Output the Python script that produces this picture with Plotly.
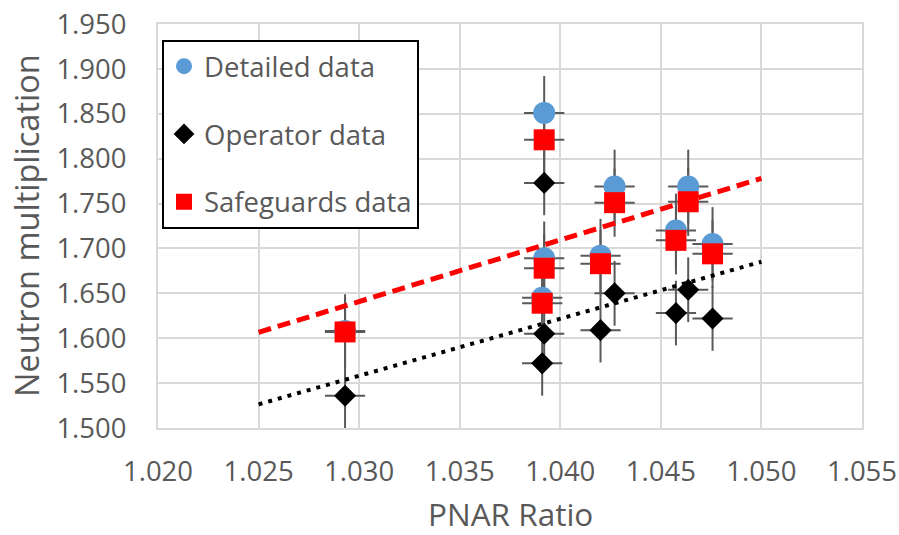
import plotly.graph_objects as go

# ---- data ----
pnar = [1.0293, 1.0392, 1.0392, 1.0391, 1.0420, 1.0427, 1.04575, 1.04636, 1.04757]
detailed = [1.608, 1.851, 1.689, 1.645, 1.692, 1.769, 1.720, 1.769, 1.705]
operator = [1.536, 1.773, 1.605, 1.572, 1.609, 1.650, 1.628, 1.654, 1.622]
safeguards = [1.607, 1.821, 1.678, 1.639, 1.683, 1.751, 1.709, 1.752, 1.694]
err_x = 0.001
err_detailed = 0.041
err_operator = 0.036
err_safeguards = 0.038

trend_x = [1.025, 1.050]
trend_safeguards = [1.6066, 1.7780]
trend_operator = [1.5264, 1.6852]

x_ticks = [1.020, 1.025, 1.030, 1.035, 1.040, 1.045, 1.050, 1.055]
y_ticks = [1.500, 1.550, 1.600, 1.650, 1.700, 1.750, 1.800, 1.850, 1.900, 1.950]

x_title = "PNAR Ratio"
y_title = "Neutron multiplication"

FONT = "Open Sans"
GREY = "#595959"
ERR = "#595959"

fig = go.Figure()

# error bars first (drawn beneath all markers, as in the original)
for ys, e in [(detailed, err_detailed), (operator, err_operator), (safeguards, err_safeguards)]:
    fig.add_trace(go.Scatter(
        x=pnar, y=ys, mode="markers",
        marker=dict(size=1, color="rgba(0,0,0,0)"),
        error_x=dict(type="constant", value=err_x, color=ERR, thickness=2, width=0),
        error_y=dict(type="constant", value=e, color=ERR, thickness=2, width=0),
        showlegend=False, hoverinfo="skip",
    ))

fig.add_trace(go.Scatter(
    x=pnar, y=detailed, mode="markers", name="Detailed data", legendgroup="a",
    marker=dict(symbol="circle", size=22, color="#5B9BD5"),
))
fig.add_trace(go.Scatter(
    x=pnar, y=operator, mode="markers", name="Operator data", legendgroup="b",
    marker=dict(symbol="diamond", size=17, color="#000000"),
))
fig.add_trace(go.Scatter(
    x=pnar, y=safeguards, mode="markers", name="Safeguards data", legendgroup="c",
    marker=dict(symbol="square", size=21, color="#FF0000"),
))

fig.add_trace(go.Scatter(
    x=trend_x, y=trend_safeguards, mode="lines", showlegend=False, hoverinfo="skip",
    line=dict(color="#FF0000", width=5, dash="13px,7px"),
))
fig.add_trace(go.Scatter(
    x=trend_x, y=trend_operator, mode="lines", showlegend=False, hoverinfo="skip",
    line=dict(color="#000000", width=4, dash="4px,6px"),
))

axis_common = dict(
    showgrid=True, gridcolor="#d9d9d9", gridwidth=2,
    showline=True, linecolor="#d9d9d9", linewidth=2, mirror=True,
    zeroline=False, ticks="", tickformat=".3f", automargin=False,
    ticklabeloverflow="allow",
    tickfont=dict(family=FONT, size=27.5, color=GREY),
)

fig.update_layout(
    width=899, height=535,
    margin=dict(l=158, r=37, t=24, b=107),
    paper_bgcolor="white", plot_bgcolor="white",
    xaxis=dict(range=[1.020, 1.055], tickvals=x_ticks, ticklabelstandoff=18, **axis_common),
    yaxis=dict(range=[1.500, 1.950], tickvals=y_ticks, ticklabelstandoff=24, **axis_common),
    legend=dict(
        x=0.0057, y=0.961, xanchor="left", yanchor="top",
        bgcolor="white", bordercolor="black", borderwidth=2,
        font=dict(family=FONT, size=27.5, color=GREY),
        traceorder="grouped", tracegroupgap=29,
    ),
    annotations=[
        dict(text=y_title, textangle=-90,
             xref="paper", yref="paper", x=-0.1875, y=0.5,
             xanchor="center", yanchor="middle", showarrow=False,
             font=dict(family=FONT, size=32.5, color=GREY)),
        dict(text=x_title,
             xref="paper", yref="paper", x=0.5, y=-0.2104,
             xanchor="center", yanchor="middle", showarrow=False,
             font=dict(family=FONT, size=31.5, color=GREY)),
    ],
    showlegend=True,
)

# remove the browser's default 8px body margin so the figure fills the window exactly
fig.write_html("out.html", config={"displayModeBar": False},
               post_script="document.body.style.margin='0';")
